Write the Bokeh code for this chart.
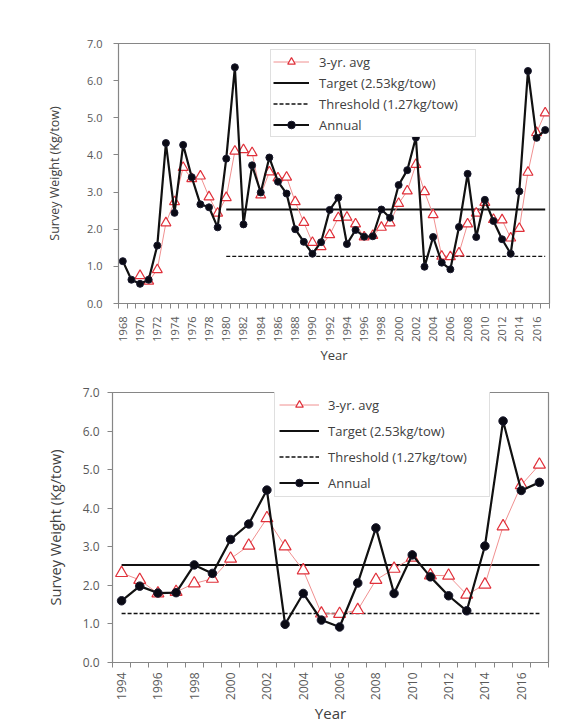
import math
from bokeh.plotting import figure
from bokeh.layouts import column, row
from bokeh.models import Range1d, FixedTicker, PrintfTickFormatter, Legend, LegendItem
from bokeh.embed import file_html
from bokeh.resources import INLINE

NaN = float("nan")

# ---- data ----
years = list(range(1968, 2018))
annual = [1.14, 0.64, 0.53, 0.64, 1.56, 4.32, 2.44, 4.27, 3.40, 2.67,
          2.59, 2.05, 3.90, 6.36, 2.13, 3.72, 2.99, 3.93, 3.28, 2.96,
          2.00, 1.66, 1.34, 1.65, 2.52, 2.85,
          1.60, 1.98, 1.80, 1.81, 2.53, 2.31, 3.19, 3.59, 4.47, 0.99,
          1.79, 1.10, 0.92, 2.06, 3.49, 1.79, 2.79, 2.22, 1.73, 1.34,
          3.02, 6.26, 4.46, 4.67]
avg3 = [NaN, NaN, 0.75, 0.60, 0.91, 2.17, 2.74, 3.66, 3.36, 3.43,
        2.87, 2.43, 2.85, 4.10, 4.14, 4.06, 2.92, 3.54, 3.38, 3.40,
        2.74, 2.18, 1.64, 1.53, 1.85, 2.31,
        2.32, 2.14, 1.79, 1.83, 2.05, 2.17, 2.69, 3.03, 3.74, 3.01,
        2.39, 1.27, 1.26, 1.36, 2.14, 2.43, 2.72, 2.26, 2.25, 1.76,
        2.02, 3.53, 4.60, 5.13]
TARGET = 2.53
THRESHOLD = 1.27
target_start_top = 1980
target_start_bottom = 1994
bottom_start = 1994

labels = ["3-yr. avg", "Target (2.53kg/tow)", "Threshold (1.27kg/tow)", "Annual"]
y_ticks = [0, 1, 2, 3, 4, 5, 6, 7]
top_tick_years = list(range(1968, 2017, 2))
bottom_tick_years = list(range(1994, 2017, 2))

FONT = "Open Sans"
TXT = "#595959"
AX = "#868686"
RED = "#e0303a"
PINK = "#f09090"
BLK = "#111111"


def make(first_year, tick_years, t_start, fw, fh, bl, br, bt, bb,
         tick_fs, title_fs, year_fs, leg_fs, msize, tsize, leg_loc,
         leg_pad, leg_h, leg_sp, leg_gw, leg_st, leg_lw, ylab_standoff,
         ytick_standoff, xtick_standoff, xlab_standoff):
    i0 = years.index(first_year)
    xs = years[i0:]
    an = annual[i0:]
    av = avg3[i0:]
    p = figure(frame_width=fw, frame_height=fh, output_backend="svg",
               toolbar_location=None,
               x_range=Range1d(xs[0] - 0.5, xs[-1] + 0.5),
               y_range=Range1d(0, 7),
               min_border_left=bl, min_border_right=br,
               min_border_top=bt, min_border_bottom=bb)
    p.xgrid.visible = False
    p.ygrid.visible = False
    p.outline_line_color = AX
    p.outline_line_width = 1.2
    p.background_fill_color = "white"
    p.border_fill_color = "white"

    # axes
    bounds = [x - 0.5 for x in xs] + [xs[-1] + 0.5]
    xa = p.xaxis[0]
    xa.ticker = FixedTicker(ticks=tick_years, minor_ticks=bounds)
    xa.major_tick_line_color = None
    xa.major_tick_out = 5
    xa.major_tick_in = 0
    xa.minor_tick_line_color = AX
    xa.minor_tick_out = 5
    xa.minor_tick_in = 0
    xa.major_label_orientation = math.pi / 2
    xa.major_label_standoff = xtick_standoff
    xa.axis_line_color = AX
    xa.axis_label = "Year"
    xa.axis_label_standoff = xlab_standoff
    ya = p.yaxis[0]
    ya.ticker = FixedTicker(ticks=y_ticks)
    ya.formatter = PrintfTickFormatter(format="%.1f")
    ya.major_tick_line_color = AX
    ya.major_tick_out = 5
    ya.major_tick_in = 0
    ya.minor_tick_line_color = None
    ya.axis_line_color = AX
    ya.axis_label = "Survey Weight (Kg/tow)"
    ya.axis_label_standoff = ylab_standoff
    ya.major_label_standoff = ytick_standoff
    for a in (xa, ya):
        a.major_label_text_font = FONT
        a.major_label_text_font_size = tick_fs
        a.major_label_text_color = TXT
        a.axis_label_text_font = FONT
        a.axis_label_text_font_style = "normal"
        a.axis_label_text_color = "#404040"
    xa.axis_label_text_font_size = year_fs
    ya.axis_label_text_font_size = title_fs

    # reference lines
    r_t = p.line([t_start, xs[-1]], [TARGET, TARGET], line_color=BLK, line_width=2)
    r_th = p.line([t_start, xs[-1]], [THRESHOLD, THRESHOLD], line_color=BLK,
                  line_width=1.4, line_dash="4 2")
    # 3-yr avg
    r_al = p.line(xs, av, line_color=PINK, line_width=1)
    r_am = p.scatter(xs, av, marker="triangle", size=tsize, line_color=RED,
                     fill_color="white", line_width=1.2)
    # annual
    r_nl = p.line(xs, an, line_color=BLK, line_width=2.2)
    r_nm = p.scatter(xs, an, marker="circle", size=msize, line_color="#1a1a2e",
                     fill_color="#0a0a14", line_width=1)

    leg = Legend(items=[LegendItem(label=labels[0], renderers=[r_al, r_am]),
                        LegendItem(label=labels[1], renderers=[r_t]),
                        LegendItem(label=labels[2], renderers=[r_th]),
                        LegendItem(label=labels[3], renderers=[r_nl, r_nm])],
                 location=leg_loc, padding=leg_pad, spacing=leg_sp,
                 label_height=leg_h, glyph_height=leg_h, glyph_width=leg_gw,
                 label_standoff=leg_st, label_width=leg_lw, margin=0,
                 label_text_font=FONT, label_text_font_size=leg_fs,
                 label_text_color="#404040",
                 border_line_color="#bfbfbf", border_line_width=1,
                 background_fill_color="white", background_fill_alpha=1)
    p.add_layout(leg)
    return p


p1 = make(1968, top_tick_years, target_start_top, 431, 260, 118, 22, 43, 65,
          "11px", "12.5px", "13px", "13px", 7, 10, (152, 166),
          2, 19, 2, 36, 10, 154, 21, 11, 8, 1)
p2 = make(bottom_start, bottom_tick_years, target_start_bottom, 436, 270, 112, 29, 24, 58,
          "12px", "14.5px", "15px", "13px", 8.5, 12, (162, 165),
          4, 19, 7, 40, 9, 157, 15, 8, 5, 0)

layout = column(row(p1), row(p2), spacing=0)
open("out.html", "w").write(file_html(layout, INLINE))
